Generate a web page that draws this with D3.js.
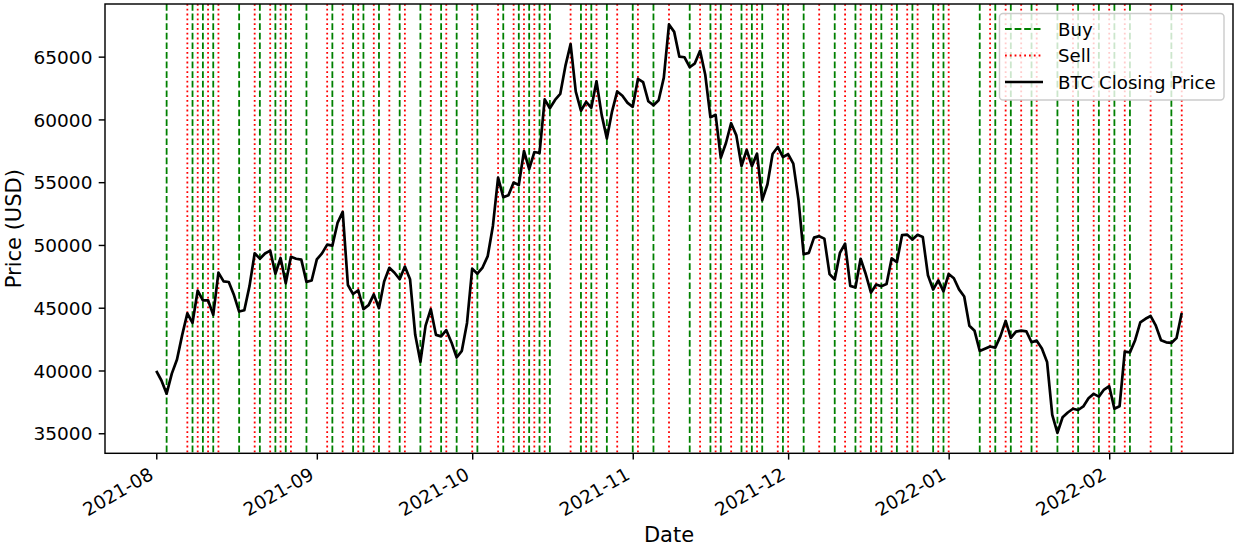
<!DOCTYPE html>
<html><head><meta charset="utf-8">
<script src="https://cdn.jsdelivr.net/npm/d3@7/dist/d3.min.js"></script>
<style>
body{margin:0;background:#fff}
svg{display:block}
text{font-family:"DejaVu Sans",sans-serif;fill:#000}
</style>
</head><body>
<svg id="chart" width="1234" height="548"></svg>
<script>
// ---------------- data ----------------
const startDate = "2021-08-01";
const endDate = "2022-02-15";
const closesAug = [39974.89,39201.95,38152.98,39747.50,40869.55,42816.50,44555.80,43798.12,46365.40,45585.03,45593.64,44428.29,47793.32,47096.95,47047.00,46004.48,44695.36,44801.19,46717.58,49339.18,48905.49,49321.65,49546.15,47706.12,48960.79,46942.22,49058.67,48902.40,48829.83,47054.98,47166.69];
const closesSep = [48847.03,49327.72,50025.38,49944.63,51753.41,52633.54,46811.13,46091.39,46391.42,44883.91,45201.46,46063.27,44963.07,47092.49,48176.35,47783.36,47267.52,48278.36,47260.22,42843.80,40693.68,43574.51,44895.10,42839.75,42716.59,43208.54,42235.73,41034.54,41564.36,43790.90];
const closesOct = [48116.94,47711.49,48199.95,49112.90,51514.81,55361.45,53805.98,53967.85,54968.22,54771.58,57484.79,56041.06,57401.10,57321.52,61593.95,60892.18,61553.62,62026.08,64261.99,65992.84,62210.17,60692.27,61393.62,60930.84,63039.82,60363.79,58482.39,60622.14,62227.96,61888.39,61318.96];
const closesNov = [61004.41,63226.40,62970.05,61452.23,61125.68,61527.48,63326.99,67566.83,66971.83,64995.23,64949.96,64155.94,64469.53,65466.84,63557.87,60161.25,60368.01,56942.14,58119.58,59697.20,58730.48,56289.29,57569.07,56280.43,57274.68,53569.77,54815.08,57248.46,57806.57,57005.43];
const closesDec = [57229.83,56477.82,53598.25,49253.55,49368.85,50582.62,50700.09,50504.80,47672.12,47243.30,49362.51,50098.34,46737.48,46612.63,48896.72,47665.43,46202.14,46848.78,46707.02,46880.28,48936.61,48628.51,50784.54,50822.20,50429.86,50809.52,50640.42,47588.85,46444.71,47178.13,46306.45];
const closesJan = [47686.81,47345.22,46458.12,45897.57,43569.00,43160.93,41557.90,41733.94,41911.60,41821.26,42735.86,43949.10,42591.57,43099.70,43177.40,43113.88,42250.55,42375.63,41744.33,40680.42,36457.32,35030.25,36276.80,36654.33,36954.00,36852.12,37138.23,37784.33,38138.18,37917.60,38483.13];
const closesFeb = [38743.27,36952.98,37154.60,41500.88,41441.16,42412.43,43840.29,44118.45,44338.80,43565.11,42407.94,42244.47,42197.52,42586.92,44575.20];

const buyDates = ["2021-08-03","2021-08-08","2021-08-10","2021-08-12","2021-08-17","2021-08-21","2021-08-24","2021-08-26","2021-08-30",
  "2021-09-04","2021-09-08","2021-09-10","2021-09-13","2021-09-17","2021-09-21","2021-09-25","2021-09-28",
  "2021-10-02","2021-10-07","2021-10-10","2021-10-12","2021-10-14","2021-10-16","2021-10-22","2021-10-24","2021-10-27",
  "2021-11-01","2021-11-05","2021-11-12","2021-11-16","2021-11-18","2021-11-22","2021-11-24","2021-11-26","2021-11-30",
  "2021-12-04","2021-12-10","2021-12-14","2021-12-17","2021-12-19","2021-12-22","2021-12-25","2021-12-29","2021-12-31",
  "2022-01-07","2022-01-10","2022-01-13","2022-01-17","2022-01-22","2022-01-26","2022-01-30",
  "2022-02-02","2022-02-05","2022-02-13"];
const sellDates = ["2021-08-07","2021-08-09","2021-08-11","2021-08-13","2021-08-20","2021-08-23","2021-08-25","2021-08-27",
  "2021-09-03","2021-09-06","2021-09-09","2021-09-12","2021-09-15","2021-09-18","2021-09-23","2021-09-26",
  "2021-10-01","2021-10-06","2021-10-09","2021-10-11","2021-10-13","2021-10-15","2021-10-20","2021-10-23","2021-10-25","2021-10-29",
  "2021-11-02","2021-11-08","2021-11-14","2021-11-17","2021-11-20","2021-11-23","2021-11-25","2021-11-29",
  "2021-12-01","2021-12-07","2021-12-12","2021-12-15","2021-12-18","2021-12-21","2021-12-24","2021-12-26","2021-12-30",
  "2022-01-01","2022-01-09","2022-01-12","2022-01-15","2022-01-18","2022-01-25","2022-01-29",
  "2022-02-01","2022-02-04","2022-02-09","2022-02-15"];

const xTickDates = ["2021-08-01","2021-09-01","2021-10-01","2021-11-01","2021-12-01","2022-01-01","2022-02-01"];
const yTickValues = [35000,40000,45000,50000,55000,60000,65000];
const legendLabels = ["Buy","Sell","BTC Closing Price"];
const xLabel = "Date";
const yLabel = "Price (USD)";

// ---------------- build ----------------
const parse = d3.utcParse("%Y-%m-%d");
const closes = [].concat(closesAug, closesSep, closesOct, closesNov, closesDec, closesJan, closesFeb);
const days = d3.utcDay.range(parse(startDate), d3.utcDay.offset(parse(endDate), 1));
const series = days.map((d, i) => ({date: d, close: closes[i]}));

const L = 105, R = 1233, T = 4, B = 453.3;
const svg = d3.select("#chart");

const t0 = parse(startDate).getTime(), t1 = parse(endDate).getTime();
const tm = (t1 - t0) * 0.05;
const x = d3.scaleUtc().domain([new Date(t0 - tm), new Date(t1 + tm)]).range([L, R]);
const [ymin, ymax] = d3.extent(closes);
const ym = (ymax - ymin) * 0.05;
const y = d3.scaleLinear().domain([ymin - ym, ymax + ym]).range([B, T]);

// vertical signal lines
const g = svg.append("g");
g.selectAll("line.buy").data(buyDates).join("line")
  .attr("class", "buy")
  .attr("x1", d => x(parse(d))).attr("x2", d => x(parse(d)))
  .attr("y1", T).attr("y2", B)
  .attr("stroke", "#008000").attr("stroke-width", 1.8)
  .attr("stroke-dasharray", "6.7,2.9");
g.selectAll("line.sell").data(sellDates).join("line")
  .attr("class", "sell")
  .attr("x1", d => x(parse(d))).attr("x2", d => x(parse(d)))
  .attr("y1", T).attr("y2", B)
  .attr("stroke", "#ff0000").attr("stroke-width", 1.8)
  .attr("stroke-dasharray", "1.8,3.0");

// price line
svg.append("path").datum(series)
  .attr("fill", "none").attr("stroke", "#000").attr("stroke-width", 2.7)
  .attr("stroke-linejoin", "round").attr("stroke-linecap", "butt")
  .attr("d", d3.line().x(d => x(d.date)).y(d => y(d.close)));

// axes
const fs = 18.5;
const tickLen = 6.3, tickPad = 6.3;
const xAxis = d3.axisBottom(x).tickValues(xTickDates.map(parse))
  .tickFormat(d3.utcFormat("%Y-%m")).tickSize(tickLen).tickPadding(tickPad);
const xg = svg.append("g").attr("transform", `translate(0,${B})`).call(xAxis);
xg.select(".domain").remove();
xg.selectAll(".tick line").attr("stroke", "#000").attr("stroke-width", 1.44);
// matplotlib-like: rotated 30deg, bbox right at tick, bbox top at pad
const hBox = 0.98 * fs, dBox = 0.22 * fs;
const sin30 = 0.5, cos30 = Math.sqrt(3) / 2;
const bx = -sin30 * dBox;
const by = tickLen + tickPad + cos30 * (hBox - dBox);
xg.selectAll(".tick text")
  .attr("font-size", fs).attr("font-family", "DejaVu Sans")
  .attr("text-anchor", "end").attr("y", 0).attr("dy", 0)
  .attr("transform", `translate(${bx},${by}) rotate(-30)`);

const yAxis = d3.axisLeft(y).tickValues(yTickValues).tickFormat(d3.format("d"))
  .tickSize(tickLen).tickPadding(tickPad);
const yg = svg.append("g").attr("transform", `translate(${L},0)`).call(yAxis);
yg.select(".domain").remove();
yg.selectAll(".tick line").attr("stroke", "#000").attr("stroke-width", 1.44);
yg.selectAll(".tick text").attr("font-size", fs).attr("font-family", "DejaVu Sans").attr("dy", "0.36em");

// frame
svg.append("rect").attr("x", L).attr("y", T).attr("width", R - L).attr("height", B - T)
  .attr("fill", "none").attr("stroke", "#000").attr("stroke-width", 1.44);

// axis labels
svg.append("text").attr("x", (L + R) / 2).attr("y", 542).attr("text-anchor", "middle")
  .attr("font-size", 21).text(xLabel);
svg.append("text").attr("transform", `translate(21,${(T + B) / 2}) rotate(-90)`)
  .attr("text-anchor", "middle").attr("font-size", 21).text(yLabel);

// legend
const lg = svg.append("g");
lg.append("rect").attr("x", 999.5).attr("y", 13.5).attr("width", 224.5).attr("height", 86.5)
  .attr("rx", 3.5).attr("fill", "#fff").attr("fill-opacity", 0.8)
  .attr("stroke", "#cccccc").attr("stroke-width", 1.44);
const legendStyles = [
  {color: "#008000", dash: "6.7,2.9", w: 1.8},
  {color: "#ff0000", dash: "1.8,3.0", w: 1.8},
  {color: "#000", dash: null, w: 2.7}
];
legendLabels.forEach((lab, i) => {
  const cy = 29 + i * 26.5;
  const s = legendStyles[i];
  lg.append("line").attr("x1", 1005).attr("x2", 1043).attr("y1", cy).attr("y2", cy)
    .attr("stroke", s.color).attr("stroke-width", s.w)
    .attr("stroke-dasharray", s.dash);
  lg.append("text").attr("x", 1058).attr("y", cy).attr("dy", "0.36em")
    .attr("font-size", 18.2).text(lab);
});
</script>
</body></html>
